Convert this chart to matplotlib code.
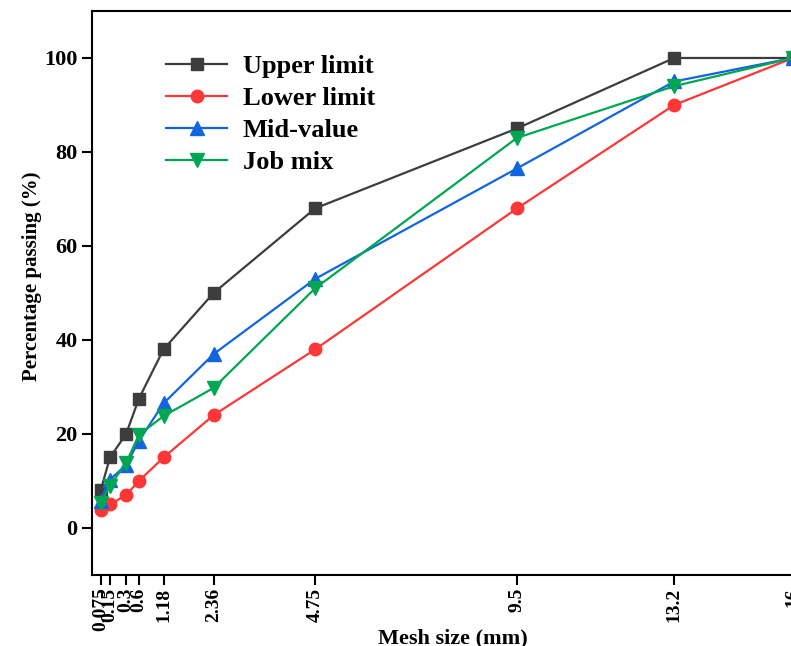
import numpy as np
import matplotlib
matplotlib.use('Agg')
import matplotlib.pyplot as plt

# sieve sizes (labels) and where they sit on the axis
mesh_labels = ['0.075', '0.15', '0.3', '0.6', '1.18', '2.36', '4.75', '9.5', '13.2', '16']
mesh_pos = [-0.30, -0.08, 0.3, 0.6, 1.18, 2.36, 4.75, 9.5, 13.2, 16]

upper = [8, 15, 20, 27.5, 38, 50, 68, 85, 100, 100]
lower = [3.8, 5, 7, 10, 15, 24, 38, 68, 90, 100]
mid = [5.8, 10.3, 13.4, 18.5, 26.5, 37, 53, 76.5, 95, 100]
job = [5.4, 9, 13.8, 19.8, 23.8, 29.8, 51, 83, 94, 100]

plt.rcParams['font.family'] = 'Liberation Serif'
plt.rcParams['font.weight'] = 'bold'

fig = plt.figure(figsize=(7.91, 6.46), dpi=100)
ax = fig.add_axes([0.1165, 0.110, 0.913, 0.873])

ax.plot(mesh_pos, upper, '-s', color='#3d3d3d', lw=1.6, ms=8, label='Upper limit')
ax.plot(mesh_pos, lower, '-o', color='#ff3636', lw=1.6, ms=9, label='Lower limit')
ax.plot(mesh_pos, mid, '-^', color='#1166e0', lw=1.6, ms=9.5, label='Mid-value')
ax.plot(mesh_pos, job, '-v', color='#00a651', lw=1.6, ms=9.5, label='Job mix')

ax.set_xlim(-0.5, 16.5)
ax.set_ylim(-10, 110)
ax.set_yticks(np.arange(0, 101, 20))
ax.set_xticks(mesh_pos)
ax.set_xticklabels(mesh_labels, rotation=90, fontsize=14, fontweight='bold')
for t in ax.get_yticklabels():
    t.set_fontsize(16)
    t.set_fontweight('bold')

ax.tick_params(direction='out', length=7, width=1.5)
ax.tick_params(axis='x', pad=2)
for s in ax.spines.values():
    s.set_linewidth(1.5)

ax.set_xlabel('Mesh size (mm)', fontsize=16, fontweight='bold')
ax.set_ylabel('Percentage passing (%)', fontsize=15, fontweight='bold')
ax.xaxis.set_label_coords(0.5, -0.095)
ax.yaxis.set_label_coords(-0.07, 0.53)

ax.legend(loc='upper left', bbox_to_anchor=(0.07, 0.965), frameon=False,
          prop={'size': 19, 'weight': 'bold'}, handlelength=2.3, labelspacing=0.33,
          handletextpad=0.6)

fig.savefig('out.png', dpi=100, facecolor='white')
